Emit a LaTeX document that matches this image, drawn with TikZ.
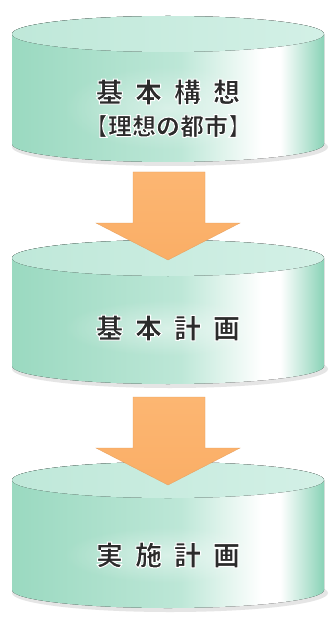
\documentclass[tikz,border=0pt]{standalone}
\usepackage{fontspec}
\usetikzlibrary{fadings}
\newfontfamily\jp{Noto Sans CJK JP}
\definecolor{sideA}{HTML}{9AD9C0}
\definecolor{sideB}{HTML}{BDE7D7}
\definecolor{sideC}{HTML}{8AD3B7}
\definecolor{topA}{HTML}{BFE8D9}
\definecolor{topB}{HTML}{D3F0E6}
\definecolor{arrowA}{HTML}{FCB672}
\definecolor{arrowB}{HTML}{FAAE66}
\definecolor{txt}{HTML}{2B2B2B}
\tikzfading[name=softglow, inner color=transparent!0, outer color=transparent!100]
\newcommand{\glowtext}[1]{\special{pdf:literal direct 2 Tr 1 1 1 RG 1.0 w}#1\special{pdf:literal direct 0 Tr}}
\pgfdeclarehorizontalshading{cylside}{100bp}{color(0bp)=(sideA); color(25bp)=(sideA); color(52bp)=(sideB); color(65bp)=(white); color(68bp)=(white); color(75bp)=(sideC); color(100bp)=(sideC)}
\tikzset{
  sidefill/.style={shading=cylside},
  topfill/.style={left color=topA, right color=topB},
  shadowfill/.style={fill=black!45, opacity=0.22},
  glowfill/.style={fill=white, fill opacity=0.45, path fading=softglow},
  arrowfill/.style={top color=arrowA, bottom color=arrowB, draw=arrowB!92!black, line width=0.3pt},
  bigtxt/.style={font=\jp\bfseries\fontsize{27}{30}\selectfont, text=txt, inner sep=0pt},
  smalltxt/.style={font=\jp\bfseries\fontsize{24}{28}\selectfont, text=txt, inner sep=0pt}
}
\newcommand{\mycyl}[2]{% #1 top centre y, #2 bottom centre y
  \fill[shadowfill] (170,#2+3) ellipse[x radius=158, y radius=19];
  \fill[sidefill] (12,#1) -- (12,#2) arc[start angle=180, end angle=0, x radius=156, y radius=18] -- (324,#1) arc[start angle=0, end angle=-180, x radius=156, y radius=18] -- cycle;
  \fill[topfill] (168,#1) ellipse[x radius=156, y radius=18];
}
\newcommand{\myarrow}[3]{% #1 shaft top, #2 head start, #3 tip
  \draw[arrowfill] (133,#1) -- (205,#1) -- (205,#2) -- (240,#2) -- (168,#3) -- (96,#2) -- (133,#2) -- cycle;
}
\begin{document}
\begin{tikzpicture}[x=1pt,y=-1pt]
\useasboundingbox (0,0) rectangle (333,628);
\fill[white] (0,0) rectangle (333,628);
\mycyl{34}{144}
\mycyl{258}{366}
\mycyl{480}{590}
\myarrow{172}{223}{260}
\myarrow{397}{448}{485}
\fill[glowfill] (168,108) ellipse[x radius=105, y radius=42];
\fill[glowfill] (168,328) ellipse[x radius=105, y radius=28];
\fill[glowfill] (168,555) ellipse[x radius=105, y radius=28];
\node[bigtxt] (t1) at (168,92) {\glowtext{基\hspace{12pt}本\hspace{12pt}構\hspace{12pt}想}};
\node[smalltxt] (t1b) at (168,126) {\glowtext{【理想の都市】}};
\node[bigtxt] (t2) at (168,328) {\glowtext{基\hspace{12pt}本\hspace{12pt}計\hspace{12pt}画}};
\node[bigtxt] (t3) at (168,555) {\glowtext{実\hspace{12pt}施\hspace{12pt}計\hspace{12pt}画}};
\end{tikzpicture}
\end{document}
